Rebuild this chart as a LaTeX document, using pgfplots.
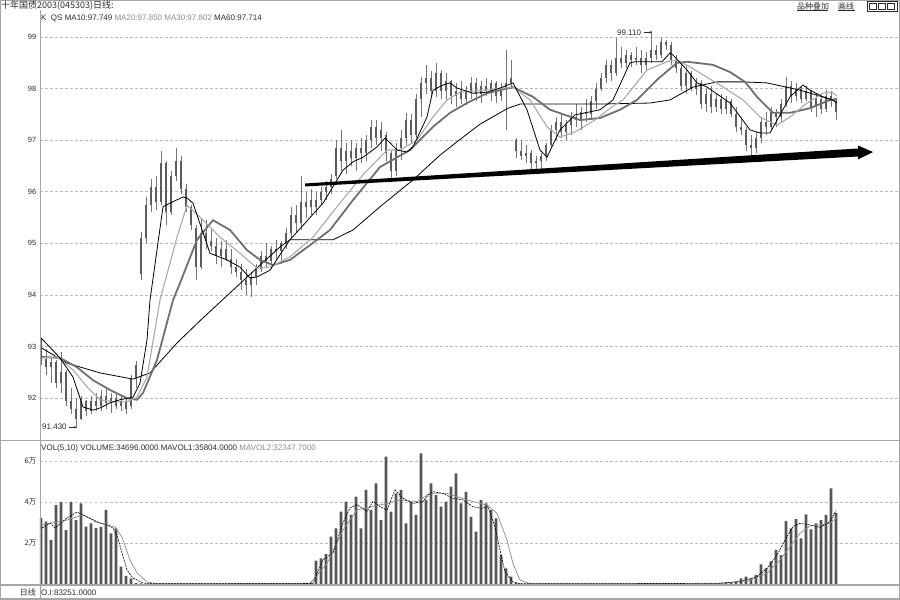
\documentclass[border=0pt]{standalone}
\usepackage{fontspec}
\setmainfont{Liberation Sans}
\newfontfamily\cjk{Noto Sans CJK SC}
\usepackage{pgfplots}
\usepackage{pgfplotstable}
\usetikzlibrary{arrows.meta}
\pgfplotsset{compat=1.18}
\definecolor{wick}{RGB}{118,118,118}
\definecolor{cbody}{RGB}{92,92,92}
\definecolor{ma20}{RGB}{170,170,170}
\definecolor{ma30}{RGB}{112,112,112}
\definecolor{vbar}{RGB}{85,85,85}
\definecolor{framec}{RGB}{165,165,165}
\definecolor{gridc}{RGB}{185,185,185}
\definecolor{txt}{RGB}{45,45,45}
\definecolor{txtg}{RGB}{140,140,140}

\pgfplotstableread{
i o h l c v
0 93.15 93.17 92.65 92.75 32.3
1 92.75 92.95 92.45 92.60 30.4
2 92.60 92.80 92.30 92.70 21.5
3 92.70 92.74 92.20 92.30 38.5
4 92.30 92.90 92.10 92.50 40.1
5 92.50 92.55 91.85 91.95 26.3
6 91.95 92.20 91.70 91.80 40.1
7 91.80 92.00 91.43 91.60 31.2
8 91.60 92.05 91.58 91.95 39.3
9 91.95 91.97 91.65 91.75 28.0
10 91.75 92.05 91.70 91.95 29.6
11 91.95 92.10 91.75 91.85 27.2
12 91.85 92.15 91.75 92.05 27.9
13 92.05 92.20 91.80 91.90 36.1
14 91.90 92.10 91.72 92.00 24.7
15 92.00 92.12 91.80 91.85 27.1
16 91.85 92.05 91.75 91.95 8.5
17 91.95 91.98 91.70 91.80 4.0
18 91.85 92.45 91.80 92.40 2.8
19 92.40 92.72 92.20 92.65 0.4
20 94.40 95.22 94.29 95.10 0.3
21 95.10 95.90 95.00 95.75 0.2
22 95.75 96.25 95.60 96.10 0.2
23 96.10 96.30 95.65 95.80 0.1
24 95.80 96.80 95.75 96.55 0.2
25 96.55 96.60 95.36 95.60 0.1
26 95.60 96.40 95.55 96.30 0.2
27 96.30 96.85 96.20 96.60 0.1
28 96.60 96.70 95.95 96.05 0.2
29 96.05 96.15 95.60 95.70 0.1
30 95.70 95.75 95.26 95.35 0.2
31 95.30 95.35 94.30 94.55 0.1
32 94.55 95.50 94.50 95.20 0.2
33 95.20 95.45 94.90 95.05 0.1
34 95.05 95.30 94.85 94.95 0.1
35 94.95 95.10 94.60 94.75 0.2
36 94.75 95.05 94.55 94.90 0.1
37 94.90 95.07 94.65 94.70 0.1
38 94.70 94.90 94.40 94.55 0.2
39 94.55 94.70 94.35 94.45 0.1
40 94.45 94.60 94.10 94.30 0.1
41 94.30 94.50 94.00 94.20 0.2
42 94.20 94.45 93.96 94.35 0.1
43 94.35 94.60 94.20 94.50 0.1
44 94.50 94.85 94.45 94.75 0.2
45 94.75 95.00 94.55 94.65 0.1
46 94.65 94.95 94.50 94.90 0.1
47 94.90 95.07 94.70 94.85 0.2
48 94.85 95.05 94.60 95.00 0.1
49 95.00 95.30 94.90 95.20 0.2
50 95.20 95.70 95.10 95.55 0.2
51 95.55 95.75 95.20 95.40 0.2
52 95.40 96.30 95.26 95.80 0.3
53 95.80 96.00 95.50 95.70 0.5
54 95.70 96.05 95.55 95.85 0.8
55 95.70 96.00 95.55 95.85 11.4
56 95.85 96.10 95.75 96.00 12.5
57 96.00 96.20 95.85 96.10 14.6
58 96.10 96.35 95.95 96.25 23.1
59 96.30 97.00 96.25 96.85 27.1
60 96.85 97.20 96.40 96.60 35.3
61 96.60 96.95 96.35 96.80 40.2
62 96.80 97.00 96.50 96.65 33.7
63 96.65 96.95 96.40 96.85 42.6
64 96.85 97.05 96.55 96.75 27.1
65 96.75 97.10 96.60 97.00 45.9
66 97.00 97.40 96.85 97.25 36.1
67 97.25 97.40 96.90 97.05 49.1
68 97.05 97.35 96.80 97.20 31.2
69 97.10 97.15 96.60 96.75 62.1
70 96.75 96.80 96.23 96.40 35.3
71 96.40 96.95 96.30 96.85 44.2
72 96.85 97.20 96.62 97.05 45.9
73 97.05 97.53 96.90 97.40 29.6
74 97.40 97.50 96.95 97.10 40.2
75 97.10 97.90 97.05 97.80 33.7
76 97.80 98.22 97.45 98.10 63.7
77 98.10 98.46 97.90 98.20 41.0
78 98.20 98.35 97.85 97.95 49.1
79 97.95 98.50 97.84 98.30 43.4
80 98.30 98.36 97.80 97.95 37.7
81 97.95 98.30 97.78 98.15 40.2
82 98.15 98.17 97.70 97.85 47.5
83 97.85 98.10 97.65 97.95 54.0
84 97.95 98.15 97.70 97.80 39.3
85 97.80 98.05 97.68 97.95 45.0
86 97.95 98.22 97.80 98.10 32.8
87 98.10 98.20 97.75 97.90 25.5
88 97.90 98.15 97.72 98.05 41.0
89 98.05 98.20 97.85 97.95 39.3
90 97.95 98.17 97.75 98.10 36.1
91 98.10 98.15 97.72 97.85 32.0
92 97.85 98.10 97.75 98.00 14.1
93 98.00 98.75 97.20 98.10 7.6
94 98.10 98.55 98.00 98.20 3.6
95 97.00 97.05 96.65 96.80 0.4
96 96.80 97.00 96.62 96.70 0.2
97 96.70 96.90 96.55 96.75 0.1
98 96.75 96.81 96.45 96.55 0.2
99 96.55 96.70 96.42 96.60 0.1
100 96.60 96.75 96.45 96.70 0.1
101 96.70 96.95 96.60 96.90 0.2
102 96.90 97.30 96.85 97.20 0.1
103 97.20 97.45 97.00 97.35 0.1
104 97.35 97.50 97.05 97.15 0.2
105 97.15 97.40 97.00 97.30 0.1
106 97.30 97.55 97.10 97.45 0.1
107 97.45 97.70 97.25 97.40 0.2
108 97.40 97.65 97.20 97.55 0.1
109 97.55 97.80 97.35 97.50 0.1
110 97.50 97.85 97.40 97.75 0.2
111 97.75 98.10 97.60 98.00 0.1
112 98.00 98.30 97.95 98.20 0.1
113 98.20 98.55 98.10 98.45 0.2
114 98.45 98.55 98.15 98.30 0.1
115 98.30 98.98 98.25 98.60 0.1
116 98.60 98.80 98.40 98.50 0.2
117 98.50 98.75 98.40 98.65 0.1
118 98.65 98.70 98.42 98.55 0.1
119 98.55 98.80 98.45 98.60 0.2
120 98.60 98.75 98.30 98.45 0.1
121 98.45 98.70 98.35 98.60 0.2
122 98.60 99.11 98.50 98.75 0.1
123 98.75 98.85 98.55 98.65 0.2
124 98.65 98.98 98.60 98.90 0.1
125 98.90 98.95 98.75 98.85 0.2
126 98.85 98.90 98.45 98.55 0.1
127 98.55 98.65 98.30 98.40 0.3
128 98.40 98.50 97.95 98.05 0.2
129 98.05 98.45 97.90 98.30 0.2
130 98.30 98.35 97.95 98.00 0.2
131 98.00 98.20 97.88 98.10 0.3
132 98.10 98.17 97.60 97.70 0.2
133 97.70 98.00 97.55 97.90 0.3
134 97.90 98.05 97.53 97.65 0.4
135 97.65 97.90 97.55 97.80 0.4
136 97.80 97.90 97.50 97.60 0.6
137 97.60 97.85 97.50 97.75 0.8
138 97.75 97.80 97.45 97.50 0.6
139 97.50 97.64 97.15 97.25 1.2
140 97.25 97.45 97.10 97.20 2.8
141 97.20 97.26 96.80 96.90 3.6
142 96.90 97.10 96.67 96.85 2.8
143 96.85 97.15 96.75 97.05 4.5
144 97.05 97.45 96.95 97.35 9.6
145 97.35 97.55 97.10 97.25 7.6
146 97.25 97.64 97.20 97.55 11.0
147 97.55 97.60 97.25 97.45 16.6
148 97.45 97.80 97.35 97.70 14.1
149 97.70 98.22 97.65 98.05 30.7
150 98.05 98.15 97.72 97.85 27.1
151 97.85 98.10 97.75 98.00 31.7
152 98.00 98.05 97.72 97.80 22.3
153 97.80 98.05 97.75 97.95 34.0
154 97.95 97.98 97.55 97.65 26.7
155 97.65 97.90 97.45 97.80 29.6
156 97.80 97.85 97.50 97.60 31.2
157 97.60 97.97 97.55 97.85 33.7
158 97.85 97.95 97.64 97.75 46.7
159 97.75 97.78 97.39 97.55 34.7
}\kdata

\pgfplotsset{kaxis/.style={anchor=south west, scale only axis, width=860pt,
  xmin=-0.2, xmax=171.8, axis line style={draw=none}, xtick=\empty,
  major tick length=0pt, ymajorgrids,
  major grid style={draw=gridc, dash pattern=on 2.5pt off 2.5pt, line width=0.6pt},
  yticklabel style={inner sep=1pt, xshift=-2.5pt, text=txt, font=\fontsize{7.5}{8}\selectfont}}}

\begin{document}
\begin{tikzpicture}[x=1pt,y=1pt,font=\fontsize{8}{9}\selectfont]
\path[use as bounding box] (0,0) rectangle (900,600);
\fill[white] (0,0) rectangle (900,600);

% ---------------- price panel ----------------
\begin{axis}[kaxis, at={(40pt,160pt)}, height=430pt, ymin=91.19, ymax=99.523,
  ytick={92,93,94,95,96,97,98,99}, yticklabels={92,93,94,95,96,97,98,99}]
% wicks
\addplot[draw=none, mark=none, forget plot, error bars/.cd, y dir=plus, y explicit,
  error mark=none, error bar style={draw=wick, line width=0.9pt, solid}]
  table[x=i, y=l, y error expr={\thisrow{h}-\thisrow{l}}] \kdata;
% bodies
\addplot[draw=none, mark=none, forget plot, error bars/.cd, y dir=plus, y explicit,
  error mark=none, error bar style={draw=cbody, line width=2.1pt, solid}]
  table[x=i, y expr={min(\thisrow{o},\thisrow{c})}, y error expr={max(abs(\thisrow{c}-\thisrow{o}),0.03)}] \kdata;
% MA60
\addplot[black, line width=0.8pt] coordinates {(0.2,92.97)(5.2,92.68)(11.8,92.49)(18.4,92.37)(21.8,92.49)(27.2,93.07)(32.0,93.52)(37.8,94.04)(43.8,94.58)(47.8,94.93)(49.8,95.07)(58.4,95.07)(62.4,95.26)(67.8,95.71)(74.4,96.23)(79.8,96.71)(83.2,96.97)(87.8,97.31)(93.4,97.62)(95.8,97.70)(101.8,97.70)(111.8,97.70)(121.8,97.72)(125.8,97.78)(130.4,98.03)(135.2,98.13)(140.4,98.13)(145.2,98.11)(151.8,97.97)(158.4,97.78)(159.2,97.72)};
% MA30
\addplot[ma30, line width=1.8pt] coordinates {(0.2,92.80)(3.8,92.78)(7.2,92.60)(10.4,92.35)(13.8,92.16)(17.2,92.00)(19.2,91.97)(20.4,92.10)(23.2,92.74)(26.4,93.90)(27.8,94.23)(31.2,95.07)(34.4,95.45)(37.8,95.26)(41.2,94.87)(43.8,94.68)(46.4,94.58)(49.8,94.68)(54.4,95.01)(57.8,95.26)(62.4,95.84)(67.8,96.48)(73.8,96.81)(78.4,97.26)(81.8,97.53)(85.2,97.72)(89.2,97.91)(94.4,98.03)(98.4,97.84)(101.8,97.59)(107.8,97.39)(111.8,97.43)(115.8,97.59)(119.2,97.78)(123.2,98.17)(127.2,98.50)(129.2,98.52)(134.4,98.46)(137.8,98.32)(140.8,98.13)(143.2,97.84)(146.4,97.53)(149.8,97.53)(153.8,97.62)(157.8,97.78)(159.2,97.80)};
% MA20
\addplot[ma20, line width=1.1pt] coordinates {(0.2,92.78)(3.2,92.80)(6.4,92.55)(9.2,92.22)(11.8,91.97)(14.4,91.93)(17.2,91.93)(19.2,92.02)(21.2,92.41)(23.8,93.90)(27.2,95.12)(29.2,95.74)(31.8,95.51)(35.8,95.12)(39.8,94.81)(43.2,94.52)(45.8,94.54)(49.8,94.74)(54.4,95.12)(59.2,95.71)(64.4,96.33)(69.2,96.81)(71.8,96.81)(75.2,97.00)(78.4,97.45)(81.2,97.78)(83.8,97.93)(88.4,97.97)(94.4,98.03)(97.8,97.78)(101.2,97.26)(103.8,97.06)(106.8,97.16)(110.8,97.39)(113.8,97.62)(116.4,97.78)(121.2,98.36)(125.2,98.52)(127.2,98.55)(129.8,98.42)(133.2,98.22)(136.4,98.03)(140.4,97.78)(143.8,97.45)(147.2,97.29)(149.8,97.45)(153.2,97.72)(156.4,97.91)(158.2,97.93)(159.2,97.85)};
% MA10
\addplot[black, line width=0.8pt] coordinates {(0,93.17)(3.8,92.78)(6.4,92.41)(8.4,91.83)(10.4,91.77)(11.8,91.81)(13.8,91.91)(15.8,91.97)(18.4,92.02)(19.8,92.29)(21.2,93.13)(21.8,93.90)(24.4,95.71)(25.8,95.78)(28.4,95.90)(29.2,95.88)(30.4,95.78)(33.8,94.81)(37.2,94.68)(39.8,94.54)(41.8,94.33)(43.2,94.35)(45.8,94.48)(48.4,94.87)(49.8,95.07)(56.4,95.78)(60.4,96.42)(62.4,96.58)(64.4,96.67)(67.2,96.87)(68.8,97.04)(69.8,96.95)(71.2,96.81)(73.2,96.77)(74.4,96.87)(77.2,97.45)(78.4,97.97)(80.4,98.07)(81.8,98.11)(83.2,98.01)(86.4,97.91)(89.2,97.93)(91.8,98.01)(94.4,98.11)(97.2,97.59)(99.8,96.81)(101.2,96.67)(103.8,97.20)(106.8,97.49)(111.8,97.59)(114.4,97.78)(117.8,98.50)(118.8,98.52)(124.2,98.52)(125.8,98.69)(126.4,98.65)(129.2,98.36)(131.2,98.11)(133.2,98.03)(137.8,97.72)(141.8,97.20)(143.8,97.14)(145.8,97.14)(149.8,97.84)(152.4,98.07)(153.8,97.97)(156.4,97.84)(159,97.75)};
% trend arrow
\addplot[fill=black, draw=none] coordinates {(52.8,96.161)(163.4,96.839)(163.4,96.897)(166.4,96.771)(163.4,96.626)(163.4,96.684)(52.8,96.103)};
% extreme labels
\node[anchor=west, inner sep=0pt, text=txt] at (axis cs:0.2,91.44) {91.430};
\draw[txt, line width=0.5pt, -{To[length=2pt,width=2.5pt]}] (axis cs:5.5,91.44) -- (axis cs:7.0,91.44);
\node[anchor=west, inner sep=0pt, text=txt] at (axis cs:115.2,99.09) {99.110};
\draw[txt, line width=0.5pt, -{To[length=2pt,width=2.5pt]}] (axis cs:120.6,99.09) -- (axis cs:122.1,99.09);
\end{axis}

% ---------------- volume panel ----------------
\begin{axis}[kaxis, at={(40pt,15pt)}, height=144pt, ymin=-0.488, ymax=69.76,
  ytick={20,40,60}, yticklabels={{\cjk 2万},{\cjk 4万},{\cjk 6万}}]
\addplot[ybar, bar width=2.8pt, fill=vbar, draw=none] table[x=i, y=v] \kdata;
% MAVOL2
\addplot[txtg, line width=0.7pt] coordinates {(0.2,28.8)(5.2,31.2)(8.4,33.7)(11.8,29.8)(14.8,27.8)(16.2,22.9)(17.8,11.7)(19.2,5.4)(21.2,1.0)(23.2,0.1)(53.8,0.3)(57.2,10.0)(60.4,26.3)(63.2,36.1)(65.8,37.7)(69.2,39.3)(71.8,41.0)(75.2,40.2)(77.8,44.2)(81.2,44.2)(85.2,41.0)(89.2,38.5)(91.2,34.5)(93.2,21.5)(94.4,10.0)(95.8,1.9)(97.8,0.1)(135.2,0.1)(141.8,1.9)(145.2,5.2)(147.8,11.7)(149.8,18.2)(151.8,24.7)(153.8,28.3)(155.8,28.8)(157.8,29.6)(159.2,32.3)};
% MAVOL1
\addplot[black, line width=0.6pt, dash pattern=on 2pt off 1pt] coordinates {(0.2,27.3)(1.8,29.8)(2.8,27.3)(5.2,32.2)(7.2,35.1)(9.2,32.7)(11.2,30.2)(13.2,28.8)(14.4,27.3)(15.2,23.9)(16.2,15.1)(17.2,6.8)(18.4,2.9)(20.4,0.5)(22.4,0.1)(51.8,0.2)(54.4,0.3)(56.4,11.9)(58.4,15.1)(60.4,29.8)(61.8,37.1)(63.2,38.7)(65.2,35.4)(66.4,40.3)(67.8,37.7)(69.2,36.1)(70.8,45.9)(72.4,41.8)(74.4,39.3)(76.4,40.2)(77.4,43.4)(78.4,45.0)(80.4,44.2)(82.4,41.8)(84.4,41.0)(86.4,37.7)(88.2,36.9)(89.4,37.7)(90.8,28.0)(91.8,16.6)(92.8,6.0)(94.4,1.1)(95.8,0.1)(135.2,0.3)(139.8,1.1)(143.2,3.6)(145.2,7.6)(147.2,14.1)(149.2,23.1)(150.4,28.0)(151.8,29.6)(153.8,28.8)(155.8,27.6)(157.8,30.4)(159,35.8)};
\end{axis}

% ---------------- frame and texts ----------------
\draw[framec, line width=1pt] (0.5,0.5) rectangle (899.5,599.5);
\draw[framec, line width=1pt] (40,0) -- (40,590);
\draw[framec, line width=1pt] (0,159) -- (900,159);
\draw[framec, line width=1.5pt] (0,15) -- (900,15);
\fill[framec] (0,0) rectangle (900,2);

\node[anchor=west, inner sep=0pt, text=txt, font=\fontsize{9}{10}\selectfont] at (1,594) {\cjk 十年国债2003(045303)日线:};
\node[anchor=west, inner sep=0pt, text=txt] at (41,582) {K\ \ QS\ MA10:97.749 \textcolor{txtg}{MA20:97.850 MA30:97.802} MA60:97.714};
\node[anchor=west, inner sep=0pt, text=txt] at (41,152) {VOL(5,10) VOLUME:34696.0000 MAVOL1:35804.0000 \textcolor{txtg}{MAVOL2:32347.7000}};
\node[anchor=east, inner sep=0pt, text=txt] at (36,7.5) {\cjk 日线};
\node[anchor=west, inner sep=0pt, text=txt] at (41,7.5) {O.I:83251.0000};

\node[anchor=west, inner sep=0pt, text=txt] at (797,594) {\cjk 品种叠加};
\draw[txt, line width=0.5pt] (797,589.5) -- (828,589.5);
\node[anchor=west, inner sep=0pt, text=txt] at (838,594) {\cjk 画线};
\draw[txt, line width=0.5pt] (838,589.5) -- (855,589.5);
\draw[txt, line width=0.6pt] (867,589) rectangle (897,599);
\draw[txt, line width=0.5pt] (869.5,591) rectangle (876.5,597);
\draw[txt, line width=0.5pt] (878.5,591) rectangle (885.5,597);
\draw[txt, line width=0.5pt] (887.5,591) rectangle (894.5,597);
\end{tikzpicture}
\end{document}
